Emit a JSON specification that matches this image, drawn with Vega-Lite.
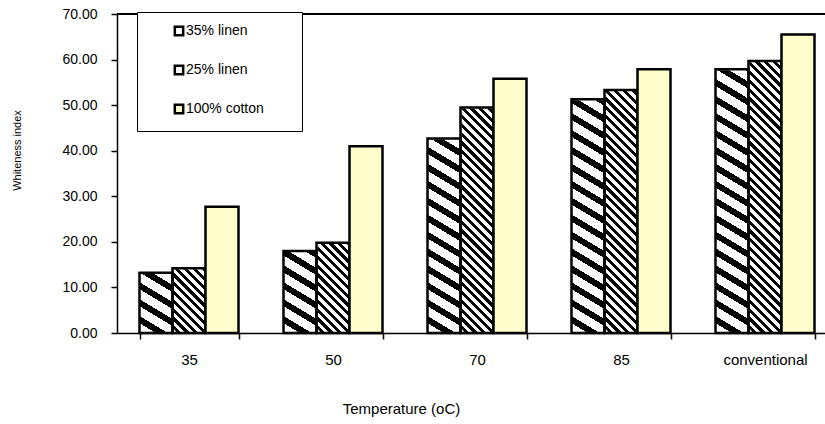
{
  "$schema": "https://vega.github.io/schema/vega-lite/v6.json",
  "width": 708,
  "height": 319,
  "autosize": {"type": "none"},
  "padding": {"left": 117, "top": 14, "right": 0, "bottom": 91},
  "background": "white",
  "config": {"view": {"stroke": null}, "font": "Liberation Sans"},
  "data": {
    "values": [
      {"temp": "35", "series": "35% linen", "value": 13.2},
      {"temp": "35", "series": "25% linen", "value": 14.2},
      {"temp": "35", "series": "100% cotton", "value": 27.7},
      {"temp": "50", "series": "35% linen", "value": 18.0},
      {"temp": "50", "series": "25% linen", "value": 19.8},
      {"temp": "50", "series": "100% cotton", "value": 41.0},
      {"temp": "70", "series": "35% linen", "value": 42.7},
      {"temp": "70", "series": "25% linen", "value": 49.5},
      {"temp": "70", "series": "100% cotton", "value": 55.8},
      {"temp": "85", "series": "35% linen", "value": 51.3},
      {"temp": "85", "series": "25% linen", "value": 53.3},
      {"temp": "85", "series": "100% cotton", "value": 57.9},
      {"temp": "conventional", "series": "35% linen", "value": 57.9},
      {"temp": "conventional", "series": "25% linen", "value": 59.7},
      {"temp": "conventional", "series": "100% cotton", "value": 65.5}
    ]
  },
  "layer": [
    {
      "transform": [{"filter": "datum.series === '35% linen'"}],
      "mark": {
        "type": "bar",
        "strokeWidth": 0,
        "fill": {
          "gradient": "linear", "x1": 1, "y1": 0, "x2": 0.9343, "y2": 1.058,
          "stops": [
            {"offset": 0, "color": "#000"}, {"offset": 0.021, "color": "#000"}, {"offset": 0.021, "color": "#fff"}, {"offset": 0.05, "color": "#fff"},
            {"offset": 0.05, "color": "#000"}, {"offset": 0.071, "color": "#000"}, {"offset": 0.071, "color": "#fff"}, {"offset": 0.1, "color": "#fff"},
            {"offset": 0.1, "color": "#000"}, {"offset": 0.121, "color": "#000"}, {"offset": 0.121, "color": "#fff"}, {"offset": 0.15, "color": "#fff"},
            {"offset": 0.15, "color": "#000"}, {"offset": 0.171, "color": "#000"}, {"offset": 0.171, "color": "#fff"}, {"offset": 0.2, "color": "#fff"},
            {"offset": 0.2, "color": "#000"}, {"offset": 0.221, "color": "#000"}, {"offset": 0.221, "color": "#fff"}, {"offset": 0.25, "color": "#fff"},
            {"offset": 0.25, "color": "#000"}, {"offset": 0.271, "color": "#000"}, {"offset": 0.271, "color": "#fff"}, {"offset": 0.3, "color": "#fff"},
            {"offset": 0.3, "color": "#000"}, {"offset": 0.321, "color": "#000"}, {"offset": 0.321, "color": "#fff"}, {"offset": 0.35, "color": "#fff"},
            {"offset": 0.35, "color": "#000"}, {"offset": 0.371, "color": "#000"}, {"offset": 0.371, "color": "#fff"}, {"offset": 0.4, "color": "#fff"},
            {"offset": 0.4, "color": "#000"}, {"offset": 0.421, "color": "#000"}, {"offset": 0.421, "color": "#fff"}, {"offset": 0.45, "color": "#fff"},
            {"offset": 0.45, "color": "#000"}, {"offset": 0.471, "color": "#000"}, {"offset": 0.471, "color": "#fff"}, {"offset": 0.5, "color": "#fff"},
            {"offset": 0.5, "color": "#000"}, {"offset": 0.521, "color": "#000"}, {"offset": 0.521, "color": "#fff"}, {"offset": 0.55, "color": "#fff"},
            {"offset": 0.55, "color": "#000"}, {"offset": 0.571, "color": "#000"}, {"offset": 0.571, "color": "#fff"}, {"offset": 0.6, "color": "#fff"},
            {"offset": 0.6, "color": "#000"}, {"offset": 0.621, "color": "#000"}, {"offset": 0.621, "color": "#fff"}, {"offset": 0.65, "color": "#fff"},
            {"offset": 0.65, "color": "#000"}, {"offset": 0.671, "color": "#000"}, {"offset": 0.671, "color": "#fff"}, {"offset": 0.7, "color": "#fff"},
            {"offset": 0.7, "color": "#000"}, {"offset": 0.721, "color": "#000"}, {"offset": 0.721, "color": "#fff"}, {"offset": 0.75, "color": "#fff"},
            {"offset": 0.75, "color": "#000"}, {"offset": 0.771, "color": "#000"}, {"offset": 0.771, "color": "#fff"}, {"offset": 0.8, "color": "#fff"},
            {"offset": 0.8, "color": "#000"}, {"offset": 0.821, "color": "#000"}, {"offset": 0.821, "color": "#fff"}, {"offset": 0.85, "color": "#fff"},
            {"offset": 0.85, "color": "#000"}, {"offset": 0.871, "color": "#000"}, {"offset": 0.871, "color": "#fff"}, {"offset": 0.9, "color": "#fff"},
            {"offset": 0.9, "color": "#000"}, {"offset": 0.921, "color": "#000"}, {"offset": 0.921, "color": "#fff"}, {"offset": 0.95, "color": "#fff"},
            {"offset": 0.95, "color": "#000"}, {"offset": 0.971, "color": "#000"}, {"offset": 0.971, "color": "#fff"}, {"offset": 1, "color": "#fff"}
          ]
        }
      },
      "encoding": {
        "x": {"field": "temp", "type": "nominal", "sort": ["35", "50", "70", "85", "conventional"], "title": "Temperature (oC)", "scale": {"range": [0, 720], "paddingInner": 0.3125, "paddingOuter": 0.15625},
          "axis": {"tickBand": "extent", "labelAngle": 0, "tickSize": 6, "labelPadding": 13, "labelFontSize": 15, "labelColor": "#000", "domainColor": "#000", "tickColor": "#000", "domainWidth": 1.5, "tickWidth": 1.5, "grid": false, "titleFontSize": 15, "titleFontWeight": "normal", "titleColor": "#000", "titleX": 284, "titleY": 80, "titleAlign": "center", "titleBaseline": "alphabetic"}},
        "xOffset": {"field": "series", "type": "nominal", "sort": ["35% linen", "25% linen", "100% cotton"], "scale": {"domain": ["35% linen", "25% linen", "100% cotton"], "paddingInner": 0, "paddingOuter": 0}},
        "y": {"datum": 70, "type": "quantitative", "scale": {"domain": [0, 70], "nice": false}, "title": "Whiteness index",
          "axis": {"values": [0, 10, 20, 30, 40, 50, 60, 70], "format": ".2f", "tickSize": 6, "labelPadding": 14, "labelFontSize": 14, "labelColor": "#000", "domainColor": "#000", "tickColor": "#000", "domainWidth": 1.5, "tickWidth": 1.5, "grid": false, "titleFontSize": 11, "titleFontWeight": "normal", "titleColor": "#000", "titleX": -100, "titleY": 136, "titleAngle": -90, "titleAlign": "center", "titleBaseline": "middle"}},
        "y2": {"datum": 0}
      }
    },
    {
      "transform": [{"filter": "datum.series === '25% linen'"}],
      "mark": {
        "type": "bar",
        "strokeWidth": 0,
        "fill": {
          "gradient": "linear", "x1": 1, "y1": 0, "x2": 0.8871, "y2": 1.0918,
          "stops": [
            {"offset": 0, "color": "#000"}, {"offset": 0.012, "color": "#000"}, {"offset": 0.012, "color": "#fff"}, {"offset": 0.025, "color": "#fff"},
            {"offset": 0.025, "color": "#000"}, {"offset": 0.037, "color": "#000"}, {"offset": 0.037, "color": "#fff"}, {"offset": 0.05, "color": "#fff"},
            {"offset": 0.05, "color": "#000"}, {"offset": 0.062, "color": "#000"}, {"offset": 0.062, "color": "#fff"}, {"offset": 0.075, "color": "#fff"},
            {"offset": 0.075, "color": "#000"}, {"offset": 0.087, "color": "#000"}, {"offset": 0.087, "color": "#fff"}, {"offset": 0.1, "color": "#fff"},
            {"offset": 0.1, "color": "#000"}, {"offset": 0.112, "color": "#000"}, {"offset": 0.112, "color": "#fff"}, {"offset": 0.125, "color": "#fff"},
            {"offset": 0.125, "color": "#000"}, {"offset": 0.137, "color": "#000"}, {"offset": 0.137, "color": "#fff"}, {"offset": 0.15, "color": "#fff"},
            {"offset": 0.15, "color": "#000"}, {"offset": 0.162, "color": "#000"}, {"offset": 0.162, "color": "#fff"}, {"offset": 0.175, "color": "#fff"},
            {"offset": 0.175, "color": "#000"}, {"offset": 0.187, "color": "#000"}, {"offset": 0.187, "color": "#fff"}, {"offset": 0.2, "color": "#fff"},
            {"offset": 0.2, "color": "#000"}, {"offset": 0.212, "color": "#000"}, {"offset": 0.212, "color": "#fff"}, {"offset": 0.225, "color": "#fff"},
            {"offset": 0.225, "color": "#000"}, {"offset": 0.237, "color": "#000"}, {"offset": 0.237, "color": "#fff"}, {"offset": 0.25, "color": "#fff"},
            {"offset": 0.25, "color": "#000"}, {"offset": 0.262, "color": "#000"}, {"offset": 0.262, "color": "#fff"}, {"offset": 0.275, "color": "#fff"},
            {"offset": 0.275, "color": "#000"}, {"offset": 0.287, "color": "#000"}, {"offset": 0.287, "color": "#fff"}, {"offset": 0.3, "color": "#fff"},
            {"offset": 0.3, "color": "#000"}, {"offset": 0.312, "color": "#000"}, {"offset": 0.312, "color": "#fff"}, {"offset": 0.325, "color": "#fff"},
            {"offset": 0.325, "color": "#000"}, {"offset": 0.337, "color": "#000"}, {"offset": 0.337, "color": "#fff"}, {"offset": 0.35, "color": "#fff"},
            {"offset": 0.35, "color": "#000"}, {"offset": 0.362, "color": "#000"}, {"offset": 0.362, "color": "#fff"}, {"offset": 0.375, "color": "#fff"},
            {"offset": 0.375, "color": "#000"}, {"offset": 0.387, "color": "#000"}, {"offset": 0.387, "color": "#fff"}, {"offset": 0.4, "color": "#fff"},
            {"offset": 0.4, "color": "#000"}, {"offset": 0.412, "color": "#000"}, {"offset": 0.412, "color": "#fff"}, {"offset": 0.425, "color": "#fff"},
            {"offset": 0.425, "color": "#000"}, {"offset": 0.437, "color": "#000"}, {"offset": 0.437, "color": "#fff"}, {"offset": 0.45, "color": "#fff"},
            {"offset": 0.45, "color": "#000"}, {"offset": 0.462, "color": "#000"}, {"offset": 0.462, "color": "#fff"}, {"offset": 0.475, "color": "#fff"},
            {"offset": 0.475, "color": "#000"}, {"offset": 0.487, "color": "#000"}, {"offset": 0.487, "color": "#fff"}, {"offset": 0.5, "color": "#fff"},
            {"offset": 0.5, "color": "#000"}, {"offset": 0.512, "color": "#000"}, {"offset": 0.512, "color": "#fff"}, {"offset": 0.525, "color": "#fff"},
            {"offset": 0.525, "color": "#000"}, {"offset": 0.537, "color": "#000"}, {"offset": 0.537, "color": "#fff"}, {"offset": 0.55, "color": "#fff"},
            {"offset": 0.55, "color": "#000"}, {"offset": 0.562, "color": "#000"}, {"offset": 0.562, "color": "#fff"}, {"offset": 0.575, "color": "#fff"},
            {"offset": 0.575, "color": "#000"}, {"offset": 0.587, "color": "#000"}, {"offset": 0.587, "color": "#fff"}, {"offset": 0.6, "color": "#fff"},
            {"offset": 0.6, "color": "#000"}, {"offset": 0.612, "color": "#000"}, {"offset": 0.612, "color": "#fff"}, {"offset": 0.625, "color": "#fff"},
            {"offset": 0.625, "color": "#000"}, {"offset": 0.637, "color": "#000"}, {"offset": 0.637, "color": "#fff"}, {"offset": 0.65, "color": "#fff"},
            {"offset": 0.65, "color": "#000"}, {"offset": 0.662, "color": "#000"}, {"offset": 0.662, "color": "#fff"}, {"offset": 0.675, "color": "#fff"},
            {"offset": 0.675, "color": "#000"}, {"offset": 0.687, "color": "#000"}, {"offset": 0.687, "color": "#fff"}, {"offset": 0.7, "color": "#fff"},
            {"offset": 0.7, "color": "#000"}, {"offset": 0.712, "color": "#000"}, {"offset": 0.712, "color": "#fff"}, {"offset": 0.725, "color": "#fff"},
            {"offset": 0.725, "color": "#000"}, {"offset": 0.737, "color": "#000"}, {"offset": 0.737, "color": "#fff"}, {"offset": 0.75, "color": "#fff"},
            {"offset": 0.75, "color": "#000"}, {"offset": 0.762, "color": "#000"}, {"offset": 0.762, "color": "#fff"}, {"offset": 0.775, "color": "#fff"},
            {"offset": 0.775, "color": "#000"}, {"offset": 0.787, "color": "#000"}, {"offset": 0.787, "color": "#fff"}, {"offset": 0.8, "color": "#fff"},
            {"offset": 0.8, "color": "#000"}, {"offset": 0.812, "color": "#000"}, {"offset": 0.812, "color": "#fff"}, {"offset": 0.825, "color": "#fff"},
            {"offset": 0.825, "color": "#000"}, {"offset": 0.837, "color": "#000"}, {"offset": 0.837, "color": "#fff"}, {"offset": 0.85, "color": "#fff"},
            {"offset": 0.85, "color": "#000"}, {"offset": 0.862, "color": "#000"}, {"offset": 0.862, "color": "#fff"}, {"offset": 0.875, "color": "#fff"},
            {"offset": 0.875, "color": "#000"}, {"offset": 0.887, "color": "#000"}, {"offset": 0.887, "color": "#fff"}, {"offset": 0.9, "color": "#fff"},
            {"offset": 0.9, "color": "#000"}, {"offset": 0.912, "color": "#000"}, {"offset": 0.912, "color": "#fff"}, {"offset": 0.925, "color": "#fff"},
            {"offset": 0.925, "color": "#000"}, {"offset": 0.937, "color": "#000"}, {"offset": 0.937, "color": "#fff"}, {"offset": 0.95, "color": "#fff"},
            {"offset": 0.95, "color": "#000"}, {"offset": 0.962, "color": "#000"}, {"offset": 0.962, "color": "#fff"}, {"offset": 0.975, "color": "#fff"},
            {"offset": 0.975, "color": "#000"}, {"offset": 0.987, "color": "#000"}, {"offset": 0.987, "color": "#fff"}, {"offset": 1, "color": "#fff"}
          ]
        }
      },
      "encoding": {
        "x": {"field": "temp", "type": "nominal", "sort": ["35", "50", "70", "85", "conventional"], "title": "Temperature (oC)"},
        "xOffset": {"field": "series", "type": "nominal", "sort": ["35% linen", "25% linen", "100% cotton"]},
        "y": {"datum": 70, "type": "quantitative", "title": "Whiteness index"},
        "y2": {"datum": 0}
      }
    },
    {
      "transform": [{"filter": "datum.series !== '100% cotton'"}],
      "mark": {"type": "bar", "fill": "#fff", "stroke": "#fff", "strokeWidth": 2},
      "encoding": {
        "x": {"field": "temp", "type": "nominal", "sort": ["35", "50", "70", "85", "conventional"], "title": "Temperature (oC)"},
        "xOffset": {"field": "series", "type": "nominal", "sort": ["35% linen", "25% linen", "100% cotton"]},
        "y": {"field": "value", "type": "quantitative", "title": "Whiteness index"},
        "y2": {"datum": 70}
      }
    },
    {
      "mark": {"type": "rule", "color": "#000", "strokeWidth": 1.5},
      "encoding": {
        "y": {"datum": 70, "type": "quantitative", "title": "Whiteness index"}
      }
    },
    {
      "mark": {"type": "bar", "stroke": "#000", "strokeWidth": 2.5},
      "encoding": {
        "x": {"field": "temp", "type": "nominal", "sort": ["35", "50", "70", "85", "conventional"], "title": "Temperature (oC)"},
        "xOffset": {"field": "series", "type": "nominal", "sort": ["35% linen", "25% linen", "100% cotton"]},
        "y": {"field": "value", "type": "quantitative", "title": "Whiteness index"},
        "fill": {"field": "series", "type": "nominal", "scale": {"domain": ["35% linen", "25% linen", "100% cotton"], "range": ["transparent", "transparent", "#FFFFCC"]},
          "legend": {"orient": "none", "legendX": 20, "legendY": -2, "title": " ", "titleOrient": "right", "titlePadding": 26, "symbolType": "square", "symbolSize": 70, "symbolStrokeColor": "#000", "symbolStrokeWidth": 2.5, "labelFontSize": 14, "labelColor": "#000", "labelOffset": 0, "symbolOffset": 23, "padding": 12, "rowPadding": 19, "fillColor": "#fff", "strokeColor": "#000"}}
      }
    }
  ]
}
